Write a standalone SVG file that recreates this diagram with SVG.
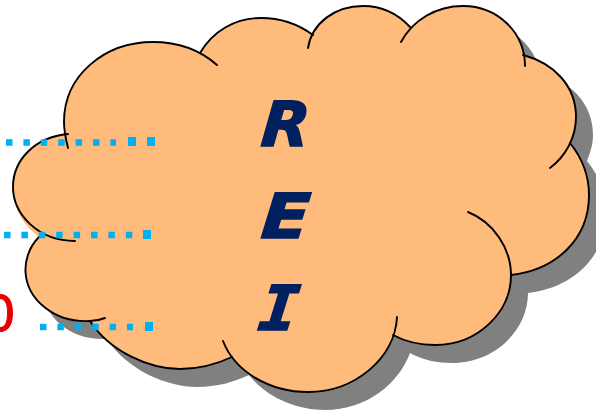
<svg xmlns="http://www.w3.org/2000/svg" width="596" height="411" viewBox="0 0 596 411">
<style>
.o{fill:none;stroke:#000;stroke-width:1.9;stroke-linecap:round}
.t{font-family:"DejaVu Sans",sans-serif;font-weight:700;font-style:italic;font-size:62px;fill:#002060;stroke:#002060;stroke-width:1.6}
.d{fill:none;stroke:#00b0f0;stroke-width:6.5;stroke-dasharray:6.5 10.9}
.b{fill:#00b0f0}
</style>
<defs>
<path id="c" d="M68,134 C35,137 13,160 13,187 C13,208 24,226 39,237 C28,248 25,262 25.500,272 C27,300 55,323 90,321 C110,352 150,369 180,369 C200,369 217,364 232,357 C250,380 280,392 308,392 C350,392 382,365 393,335 C406,342 420,345 435,345 C478,345 511,312 511,275 C555,270 589,240 589,195 C589,175 582,158 570,143 C573,135 576,127 576,117 C576,85 553,63 523,55 C518,28 495,6 463,6 C440,6 422,15 410,27 C398,14 382,6 363,6 C338,6 320,18 313,35 C298,24 280,18 261,18 C235,18 213,31 200,53 C185,46 170,42 153,42 C105,42 64,75 64,122 C64,127 65,130 66,134 Z"/>
</defs>
<use href="#c" x="17" y="18" fill="#808080"/>
<g id="cloud">
<use href="#c" fill="#ffbb7c"/>
<path class="o" d="M68,134 C35,137 13,160 13,187 C13,214 38,241 75,241"/>
<path class="o" d="M39,237 C28,248 25,262 25.500,272 C27,300 55,323 90,321 C95,321 100,320 105,318"/>
<path class="o" d="M90,321 C110,352 150,369 180,369 C200,369 217,364 232,357"/>
<path class="o" d="M223,341 C235,372 270,392 308,392 C355,392 395,358 397,317"/>
<path class="o" d="M393,335 C406,342 420,345 435,345 C478,345 511,312 511,275 C511,248 493,222 468,212"/>
<path class="o" d="M511,275 C555,270 589,240 589,195 C589,175 582,158 570,143"/>
<path class="o" d="M550,168 C566,156 576,137 576,117 C576,85 553,63 523,55"/>
<path class="o" d="M525,66 C525,32 497,6 463,6 C436,6 413,20 401,42"/>
<path class="o" d="M410,27 C398,14 382,6 363,6 C335,6 312,23 308,48"/>
<path class="o" d="M313,35 C298,24 280,18 261,18 C235,18 213,31 200,53"/>
<path class="o" d="M217,65 C200,50 177,42 153,42 C105,42 64,75 64,122 C64,130 66,140 68,148"/>
</g>
<g id="label-r"><text class="t" transform="translate(260 145.500) skewX(-5)" textLength="48" lengthAdjust="spacingAndGlyphs">R</text></g>
<g id="label-e"><text class="t" transform="translate(260 237.500) skewX(-5)" textLength="48" lengthAdjust="spacingAndGlyphs">E</text></g>
<g id="label-i"><text class="t" transform="translate(257 330) skewX(-6)" style="font-family:'DejaVu Sans Mono',monospace" textLength="40" lengthAdjust="spacingAndGlyphs">I</text></g>
<text x="-16" y="331" style="font-family:'DejaVu Sans',sans-serif;font-size:50px;fill:#e60000;stroke:#e60000;stroke-width:1">0</text>
<g id="connectors">
<path class="d" d="M6,142.500H116"/>
<path class="d" d="M4,235H133"/>
<path class="d" d="M40,327H133"/>
<rect class="b" x="128" y="137" width="8" height="9"/>
<rect class="b" x="147" y="137" width="8" height="9"/>
<rect class="b" x="143" y="230" width="8" height="9"/>
<rect class="b" x="145" y="322" width="8" height="9"/>
</g>
</svg>
